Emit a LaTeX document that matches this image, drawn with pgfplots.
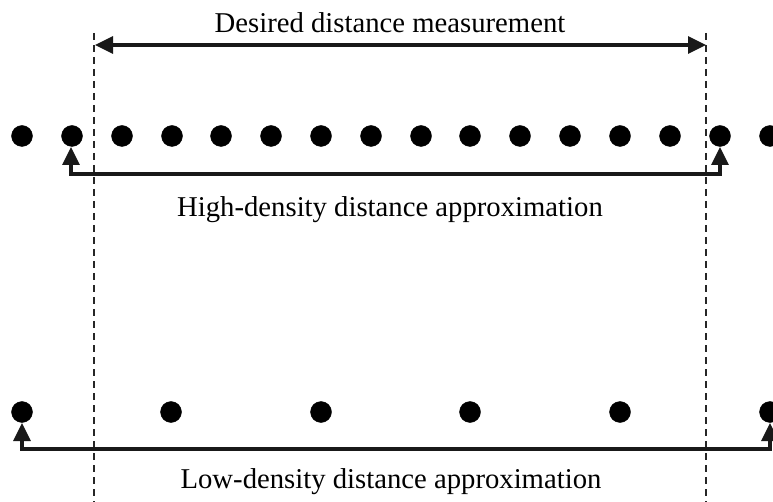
\documentclass[border=0pt]{standalone}
\usepackage{pgfplots}
\pgfplotsset{compat=1.18}
\usepackage{fontspec}
\setmainfont{Liberation Serif}
\usetikzlibrary{arrows.meta}
\begin{document}
\begin{tikzpicture}
\begin{axis}[
  width=773pt, height=502pt, scale only axis,
  xmin=0, xmax=773, ymin=0, ymax=502, y dir=reverse,
  hide axis, clip marker paths=true,
  tick style={draw=none},
]
% dashed reference lines
\addplot[black!85, line width=2.2pt, dash pattern=on 7pt off 5pt, mark=none] coordinates {(94,33) (94,502)};
\addplot[black!85, line width=2.2pt, dash pattern=on 7pt off 5pt, mark=none] coordinates {(706,33) (706,502)};
% desired distance arrow
\addplot[black!90, line width=3.2pt, mark=none, {Triangle[length=18pt,width=17pt]}-{Triangle[length=18pt,width=17pt]}] coordinates {(95,45) (706,45)};
% high-density dots
\addplot[only marks, mark=*, mark size=10.5pt, black] coordinates {
(22,136) (72,136) (122,136) (172,136) (221,136) (271,136) (321,136) (371,136)
(421,136) (470,136) (520,136) (570,136) (620,136) (670,136) (720,136) (770,136)};
% high-density arrow
\addplot[black!90, line width=3.2pt, mark=none, {Triangle[length=18pt,width=17pt]}-{Triangle[length=18pt,width=17pt]}] coordinates {(71,147) (71,174) (720,174) (720,147)};
% low-density dots
\addplot[only marks, mark=*, mark size=10.5pt, black] coordinates {
(22,412) (171,412) (321,412) (470,412) (620,412) (770,412)};
% low-density arrow
\addplot[black!90, line width=3.2pt, mark=none, {Triangle[length=18pt,width=17pt]}-{Triangle[length=18pt,width=17pt]}] coordinates {(22,423) (22,449) (770,449) (770,423)};
% labels
\node[anchor=base, inner sep=0pt, font=\fontsize{28.7}{32}\selectfont] at (axis cs:390,33) {Desired distance measurement};
\node[anchor=base, inner sep=0pt, font=\fontsize{28.7}{32}\selectfont] at (axis cs:390,217) {High-density distance approximation};
\node[anchor=base, inner sep=0pt, font=\fontsize{28.7}{32}\selectfont] at (axis cs:391,488) {Low-density distance approximation};
\end{axis}
\pgfresetboundingbox
\useasboundingbox (current axis.south west) rectangle (current axis.north east);
\end{tikzpicture}
\end{document}
